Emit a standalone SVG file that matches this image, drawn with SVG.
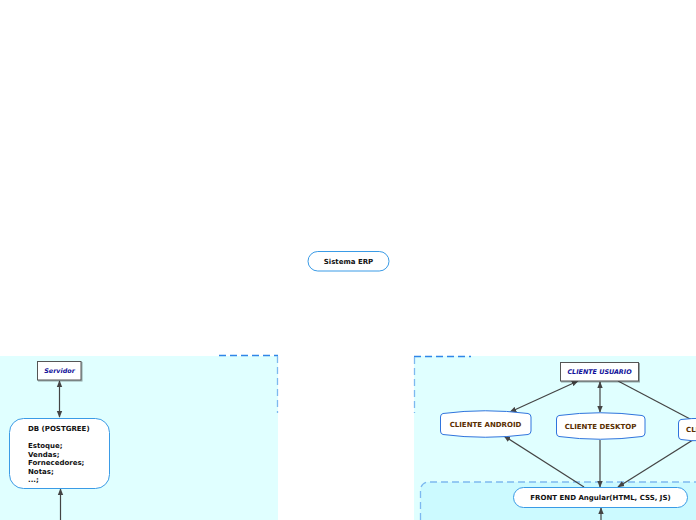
<svg xmlns="http://www.w3.org/2000/svg" width="696" height="520" viewBox="0 0 696 520">
<defs>
<marker id="ah" viewBox="0 0 10 10" refX="9" refY="5" markerWidth="7" markerHeight="7" orient="auto-start-reverse" markerUnits="userSpaceOnUse">
<path d="M0,1 L10,5 L0,9 z" fill="#444"/>
</marker>
<filter id="sh" x="-20%" y="-20%" width="150%" height="160%">
<feDropShadow dx="1" dy="1" stdDeviation="0.6" flood-color="#000" flood-opacity="0.35"/>
</filter>
</defs>
<style>
.t{font-family:"DejaVu Sans",Verdana,sans-serif;font-size:7px;font-weight:bold;fill:#111}
.ti{font-family:"DejaVu Sans",Verdana,sans-serif;font-size:6.4px;font-weight:bold;font-style:italic;fill:#10109a}
.tb{font-family:"DejaVu Sans",Verdana,sans-serif;font-size:7px;font-weight:bold;fill:#5a2e00}
.dash{fill:none;stroke:#2f86e8;stroke-width:1.3;stroke-dasharray:7,4}
.dashl{fill:none;stroke:#7db9f0;stroke-width:1.3;stroke-dasharray:7,4}
.c{fill:none;stroke:#444;stroke-width:1.2}
.rr{fill:#fff;stroke:#3a9be6;stroke-width:1}
.bx{fill:#fff;stroke:#555;stroke-width:1}
.hx{fill:#fff;stroke:#2f74dd;stroke-width:1}
</style>
<rect width="696" height="520" fill="#fff"/>
<g id="panel-servidor">
<rect x="0" y="356" width="278" height="164" fill="#e0ffff"/>
<line class="dash" x1="219" y1="355.5" x2="278" y2="355.5"/>
<line class="dashl" x1="277.5" y1="356" x2="277.5" y2="413"/>
</g>
<g id="panel-cliente">
<rect x="414" y="356" width="282" height="164" fill="#e0ffff"/>
<line class="dash" x1="414" y1="356.5" x2="471" y2="356.5"/>
<line class="dashl" x1="414.5" y1="357" x2="414.5" y2="413"/>
</g>
<g id="panel-frontend">
<path d="M420.5,520 V490 a8,8 0 0 1 8,-8 H696 V520 z" fill="#ccfaff"/>
<path class="dashl" d="M420.5,520 V490 a8,8 0 0 1 8,-8 H696"/>
</g>
<g id="connectors">
<line class="c" x1="59.5" y1="381" x2="59.5" y2="417" marker-start="url(#ah)" marker-end="url(#ah)"/>
<line class="c" x1="60.5" y1="520" x2="60.5" y2="489" marker-end="url(#ah)"/>
<line class="c" x1="578" y1="381" x2="510" y2="412" marker-start="url(#ah)" marker-end="url(#ah)"/>
<line class="c" x1="600" y1="382" x2="600" y2="412" marker-start="url(#ah)" marker-end="url(#ah)"/>
<line class="c" x1="618" y1="381" x2="692" y2="420"/>
<line class="c" x1="584" y1="487" x2="504" y2="436" marker-end="url(#ah)"/>
<line class="c" x1="600" y1="440" x2="600" y2="487" marker-end="url(#ah)"/>
<line class="c" x1="696" y1="438" x2="618" y2="487" marker-end="url(#ah)"/>
<line class="c" x1="601" y1="520" x2="601" y2="508" marker-end="url(#ah)"/>
</g>
<g id="sistema-erp">
<rect class="rr" x="308" y="251.5" width="81" height="19.5" rx="9.75"/>
<text class="t" x="348.5" y="263.5" text-anchor="middle">Sistema ERP</text>
</g>
<g id="servidor">
<rect class="bx" x="37.5" y="361.5" width="43.5" height="18.5" filter="url(#sh)"/>
<text class="ti" x="59.5" y="373.3" text-anchor="middle">Servidor</text>
</g>
<g id="db-postgree">
<rect class="rr" x="9.5" y="418.5" width="100" height="70" rx="14"/>
<text class="t" x="28" y="431">DB (POSTGREE)</text>
<text class="t" x="28" y="448">Estoque;</text>
<text class="t" x="28" y="456.5">Vendas;</text>
<text class="t" x="28" y="465">Fornecedores;</text>
<text class="t" x="28" y="473.5">Notas;</text>
<text class="t" x="28" y="482">...;</text>
</g>
<g id="cliente-usuario">
<rect class="bx" x="560.5" y="362.5" width="78" height="18.5" filter="url(#sh)"/>
<text class="ti" x="599.5" y="374.3" text-anchor="middle">CLIENTE USUARIO</text>
</g>
<g id="cliente-android">
<path class="hx" d="M443,413.5 Q485,408 528,413.5 Q531,414 531,417 V431 Q531,434 528,434.5 Q485,440 443,434.5 Q440.5,434 440.5,431 V417 Q440.5,414 443,413.5 z"/>
<text class="tb" x="485.5" y="426.5" text-anchor="middle">CLIENTE ANDROID</text>
</g>
<g id="cliente-desktop">
<path class="hx" d="M559,415.5 Q600,410 642,415.5 Q645,416 645,419 V433 Q645,436 642,436.5 Q600,442 559,436.5 Q556.5,436 556.5,433 V419 Q556.5,416 559,415.5 z"/>
<text class="tb" x="600.5" y="429" text-anchor="middle">CLIENTE DESKTOP</text>
</g>
<g id="cliente-web">
<path class="hx" d="M681,419.5 Q700,417 740,419.5 V437 Q700,443 681,439.5 Q678.5,439 678.5,436 V423 Q678.5,420 681,419.5 z"/>
<text class="tb" x="686" y="432">CLIENTE WEB</text>
</g>
<g id="front-end">
<rect class="rr" x="513.5" y="487.5" width="174" height="20" rx="10"/>
<text class="t" x="600.5" y="500" text-anchor="middle">FRONT END Angular(HTML, CSS, JS)</text>
</g>
</svg>
